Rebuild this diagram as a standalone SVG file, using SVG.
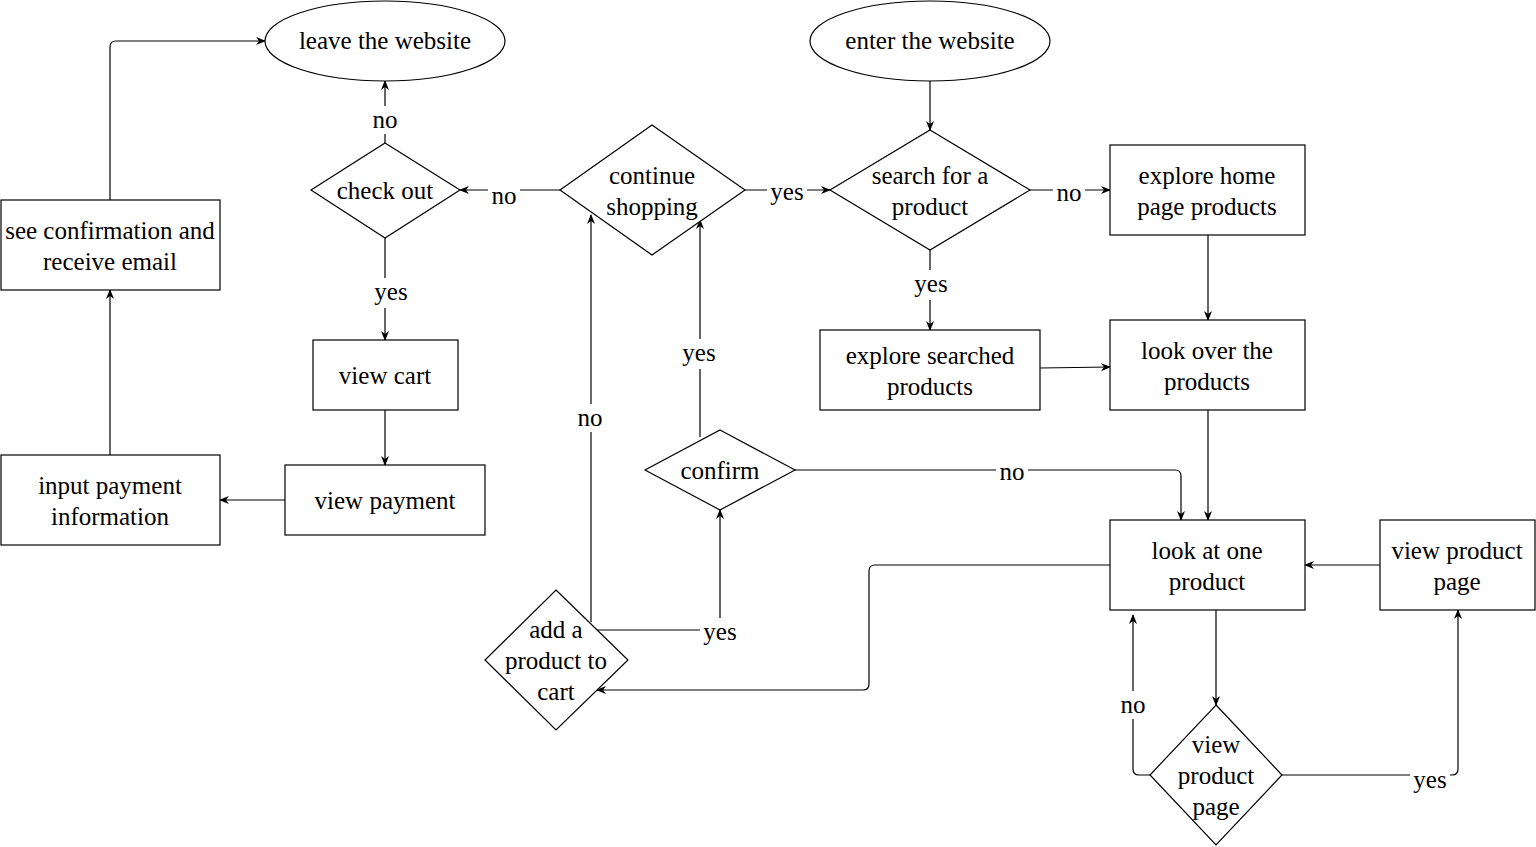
<svg xmlns="http://www.w3.org/2000/svg" width="1536" height="847" viewBox="0 0 1536 847" font-family="Liberation Serif, Times New Roman, serif">
<defs>
<marker id="arr" viewBox="0 0 10 10" refX="9" refY="5" markerWidth="10" markerHeight="10" markerUnits="userSpaceOnUse" orient="auto">
<path d="M0,1 L10,5 L0,9 L3,5 Z" fill="#000"/>
</marker>
</defs>
<style>
.s{fill:#fff;stroke:#000;stroke-width:1.2}
.t{font-size:25px;fill:#000;text-anchor:middle}
.c{fill:none;stroke:#000;stroke-width:1.2;marker-end:url(#arr)}
.lb{fill:#fff}
</style>
<rect width="1536" height="847" fill="#fff"/>
<g id="connectors">
<path class="c" d="M930,81 V130"/>
<path class="c" d="M1030,190 H1110"/>
<path class="c" d="M930,250 V330"/>
<path class="c" d="M1208,235 V320"/>
<path class="c" d="M1040,368 L1110,367"/>
<path class="c" d="M1208,410 V520"/>
<path class="c" d="M795,470 H1175 Q1181,470 1181,476 V520"/>
<path class="c" d="M1216,610 V705"/>
<path class="c" d="M1282,775 H1452 Q1458,775 1458,769 V610"/>
<path class="c" d="M1150,775 H1139 Q1133,775 1133,769 V615"/>
<path class="c" d="M1380,565 H1305"/>
<path class="c" d="M1110,565 H875 Q869,565 869,571 V684 Q869,690 863,690 H597"/>
<path class="c" d="M596,630 H720 V510"/>
<path class="c" d="M591,622 V215"/>
<path class="c" d="M700,437 V220"/>
<path class="c" d="M745,190 H830"/>
<path class="c" d="M560,190 H460"/>
<path class="c" d="M385,143 V81"/>
<path class="c" d="M385,238 V340"/>
<path class="c" d="M385,410 V465"/>
<path class="c" d="M285,500 H220"/>
<path class="c" d="M110,455 V290"/>
<path class="c" d="M110,200 V47 Q110,41 116,41 H265"/>
<g id="labels">
<rect class="lb" x="369" y="106" width="32" height="28"/><text class="t" x="385" y="128">no</text>
<rect class="lb" x="371" y="278" width="40" height="30"/><text class="t" x="391" y="300">yes</text>
<rect class="lb" x="488" y="182" width="32" height="28"/><text class="t" x="504" y="204">no</text>
<rect class="lb" x="767" y="178" width="40" height="28"/><text class="t" x="787" y="200">yes</text>
<rect class="lb" x="1053" y="179" width="32" height="28"/><text class="t" x="1069" y="201">no</text>
<rect class="lb" x="911" y="270" width="40" height="30"/><text class="t" x="931" y="292">yes</text>
<rect class="lb" x="679" y="339" width="40" height="30"/><text class="t" x="699" y="361">yes</text>
<rect class="lb" x="574" y="404" width="32" height="28"/><text class="t" x="590" y="426">no</text>
<rect class="lb" x="996" y="458" width="32" height="28"/><text class="t" x="1012" y="480">no</text>
<rect class="lb" x="700" y="618" width="40" height="30"/><text class="t" x="720" y="640">yes</text>
<rect class="lb" x="1117" y="691" width="32" height="28"/><text class="t" x="1133" y="713">no</text>
<rect class="lb" x="1410" y="766" width="40" height="30"/><text class="t" x="1430" y="788">yes</text>
</g>
</g>
<g id="leave"><ellipse class="s" cx="385" cy="41" rx="120" ry="40"/><text class="t" x="385" y="49">leave the website</text></g>
<g id="enter"><ellipse class="s" cx="930" cy="41" rx="120" ry="40"/><text class="t" x="930" y="49">enter the website</text></g>
<g id="checkout"><polygon class="s" points="385,143 460,190 385,238 311,190"/><text class="t" x="385" y="199">check out</text></g>
<g id="continue"><polygon class="s" points="652,125 745,190 652,255 560,190"/><text class="t" x="652" y="184">continue</text><text class="t" x="652" y="215">shopping</text></g>
<g id="search"><polygon class="s" points="930,130 1030,190 930,250 830,190"/><text class="t" x="930" y="184">search for a</text><text class="t" x="930" y="215">product</text></g>
<g id="explorehome"><rect class="s" x="1110" y="145" width="195" height="90"/><text class="t" x="1207" y="184">explore home</text><text class="t" x="1207" y="215">page products</text></g>
<g id="seeconf"><rect class="s" x="1" y="200" width="219" height="90"/><text class="t" x="110" y="239">see confirmation and</text><text class="t" x="110" y="270">receive email</text></g>
<g id="viewcart"><rect class="s" x="313" y="340" width="145" height="70"/><text class="t" x="385" y="384">view cart</text></g>
<g id="exploresearched"><rect class="s" x="820" y="330" width="220" height="80"/><text class="t" x="930" y="364">explore searched</text><text class="t" x="930" y="395">products</text></g>
<g id="lookover"><rect class="s" x="1110" y="320" width="195" height="90"/><text class="t" x="1207" y="359">look over the</text><text class="t" x="1207" y="390">products</text></g>
<g id="inputpay"><rect class="s" x="1" y="455" width="219" height="90"/><text class="t" x="110" y="494">input payment</text><text class="t" x="110" y="525">information</text></g>
<g id="viewpay"><rect class="s" x="285" y="465" width="200" height="70"/><text class="t" x="385" y="509">view payment</text></g>
<g id="confirm"><polygon class="s" points="720,430 795,470 720,510 645,470"/><text class="t" x="720" y="479">confirm</text></g>
<g id="lookone"><rect class="s" x="1110" y="520" width="195" height="90"/><text class="t" x="1207" y="559">look at one</text><text class="t" x="1207" y="590">product</text></g>
<g id="viewpagebox"><rect class="s" x="1380" y="520" width="155" height="90"/><text class="t" x="1457" y="559">view product</text><text class="t" x="1457" y="590">page</text></g>
<g id="addcart"><polygon class="s" points="556,590 628,660 556,730 485,660"/><text class="t" x="556" y="638">add a</text><text class="t" x="556" y="669">product to</text><text class="t" x="556" y="700">cart</text></g>
<g id="viewpagedec"><polygon class="s" points="1216,705 1282,775 1216,845 1150,775"/><text class="t" x="1216" y="753">view</text><text class="t" x="1216" y="784">product</text><text class="t" x="1216" y="815">page</text></g>
</svg>
